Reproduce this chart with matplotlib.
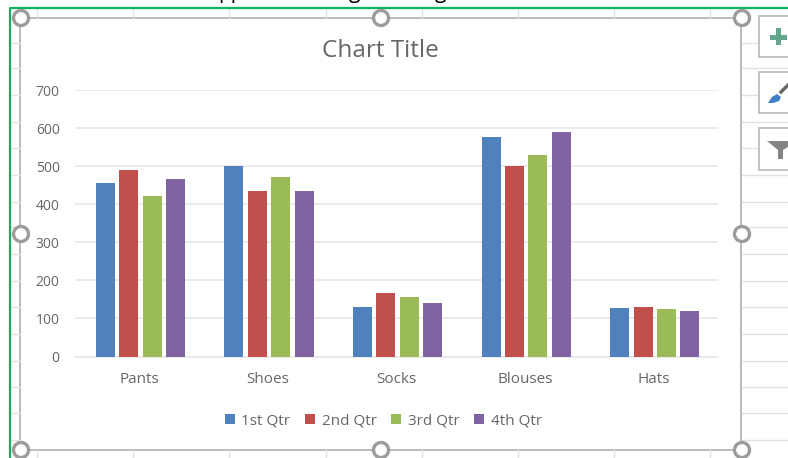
import matplotlib
matplotlib.use('Agg')
import matplotlib.pyplot as plt
import numpy as np
from matplotlib.patches import Circle, Polygon, Rectangle

categories = ['Pants', 'Shoes', 'Socks', 'Blouses', 'Hats']
qtr1 = [455, 500, 130, 576, 127]
qtr2 = [489, 434, 167, 500, 130]
qtr3 = [421, 471, 157, 530, 124]
qtr4 = [465, 434, 140, 589, 120]
series_names = ['1st Qtr', '2nd Qtr', '3rd Qtr', '4th Qtr']
colors = ['#4f81bd', '#c0504d', '#9bbb59', '#8064a2']
yticks = [0, 100, 200, 300, 400, 500, 600, 700]

plt.rcParams['font.family'] = ['Open Sans', 'DejaVu Sans']
W, H = 788, 458
fig = plt.figure(figsize=(W / 100, H / 100), dpi=100)

# screenshot stuff behind the chart, in pixel coordinates
bg = fig.add_axes([0, 0, 1, 1], zorder=0)
bg.set_xlim(0, W)
bg.set_ylim(H, 0)
bg.axis('off')

sheet = '#e2e2e2'
for y in [43, 68, 95, 122, 148, 175, 202, 227, 254, 281, 307, 334, 361, 387, 413, 440]:
    bg.plot([10, 20], [y, y], color=sheet, lw=1)
    bg.plot([742, 788], [y, y], color=sheet, lw=1)
for x in [37, 133, 229, 326, 422, 518, 614, 710]:
    bg.plot([x, x], [8, 18], color=sheet, lw=1)
    bg.plot([x, x], [450, 458], color=sheet, lw=1)

bg.add_patch(Rectangle((20.5, 18), 721, 432, fc='white', ec='#b4b4b4', lw=1.3))
bg.plot([10.5, 10.5, 788], [458, 7.5, 7.5], color='#10b060', lw=1.6)

for hx, hy in [(21, 18), (381, 18), (742, 18), (21, 234), (742, 234),
               (21, 450), (381, 450), (742, 450)]:
    bg.add_patch(Circle((hx, hy), 7.5, fc='white', ec='#9c9c9c', lw=2.4, zorder=5))

# side buttons
for top, bottom in [(16, 57), (72, 113), (128, 170)]:
    bg.add_patch(Rectangle((759.5, top), 40, bottom - top, fc='white', ec='#b8b8b8', lw=1.2, zorder=3))
bg.add_patch(Rectangle((770, 34.5), 17, 5, fc='#64a68c', ec='none', zorder=4))
bg.add_patch(Rectangle((776, 28), 5, 17, fc='#64a68c', ec='none', zorder=4))
bg.add_patch(Polygon([(768, 103), (772, 97), (777, 94), (781, 97), (779, 101), (773, 103)],
                     fc='#3f7fc4', ec='none', zorder=4))
bg.plot([781, 788], [92, 85], color='#666666', lw=2.4, zorder=4)
bg.add_patch(Polygon([(767, 141), (788, 141), (788, 147), (783, 150), (783, 159), (778, 159),
                      (778, 150)], fc='#858585', ec='none', zorder=4))

# bottoms of the text line cut off above the chart
for tx, s in [(231, 'pp'), (354, 'g'), (440, 'g')]:
    bg.text(tx, -2, s, fontsize=15, color='black', ha='center', va='baseline')

ax = fig.add_axes([75 / W, 1 - 356.5 / H, 643 / W, 266.5 / H], zorder=1)
ax.patch.set_alpha(0)
x = np.arange(len(categories)) + 0.5
step = 0.182
width = 0.148
series = [qtr1, qtr2, qtr3, qtr4]
for i, vals in enumerate(series):
    ax.bar(x + (i - 1.5) * step + 0.008, vals, width, color=colors[i], label=series_names[i], zorder=3)

ax.set_xlim(0, 5)
ax.set_ylim(0, 700)
ax.set_yticks(yticks)
ax.set_xticks(x)
ax.set_xticklabels(categories)
ax.tick_params(axis='both', length=0, labelsize=10, labelcolor='#666666')
ax.tick_params(axis='x', pad=11, labelsize=11)
ax.tick_params(axis='y', pad=11)
ax.grid(axis='y', color='#e6e6e6', lw=1.1, zorder=0)
for s in ['top', 'right', 'left']:
    ax.spines[s].set_visible(False)
ax.spines['bottom'].set_color('#e6e6e6')
ax.spines['bottom'].set_linewidth(1.1)

fig.text(380 / W, 1 - 51 / H, 'Chart Title', fontsize=17.5, color='#666666', ha='center', va='center')

fig.legend(loc='center', bbox_to_anchor=(383.5 / W, 1 - 421 / H), ncol=4, frameon=False, fontsize=11,
           labelcolor='#666666', handlelength=0.65, handleheight=0.65, handletextpad=0.45,
           columnspacing=0.95)

fig.savefig('out.png', dpi=100)
